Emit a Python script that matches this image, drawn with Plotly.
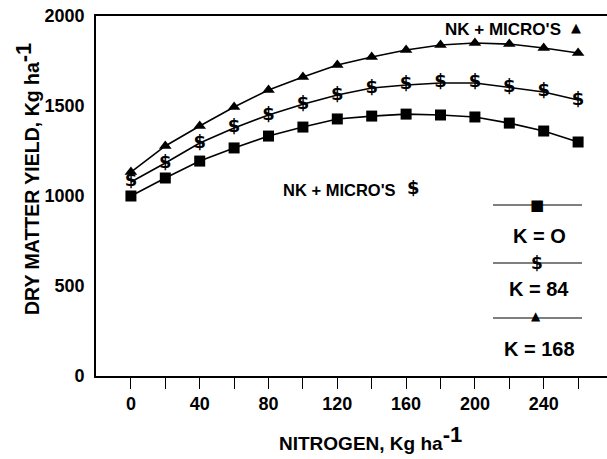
import plotly.graph_objects as go

nitrogen = [0, 20, 40, 60, 80, 100, 120, 140, 160, 180, 200, 220, 240, 260]
k0 = [1000, 1100, 1194, 1267, 1333, 1383, 1428, 1444, 1455, 1450, 1439, 1405, 1361, 1300]
k84 = [1078, 1183, 1294, 1378, 1450, 1510, 1561, 1600, 1617, 1628, 1628, 1605, 1578, 1533]
k168 = [1133, 1278, 1389, 1494, 1589, 1661, 1728, 1772, 1811, 1839, 1850, 1844, 1822, 1794]
x_major = [0, 40, 80, 120, 160, 200, 240]
y_ticks = [0, 500, 1000, 1500, 2000]

FONT = "Liberation Sans, Arial, sans-serif"
W, H = 607, 459
L, R, T, B = 96, 0, 16, 83
PW, PH = W - L - R, H - T - B

def px(x):
    return (x - L) / PW

def py(y):
    return 1 - (y - T) / PH

fig = go.Figure()
fig.add_trace(go.Scatter(x=nitrogen, y=k0, mode="lines+markers",
                         line=dict(color="black", width=1.6),
                         marker=dict(symbol="square", size=11, color="black"),
                         showlegend=False))
fig.add_trace(go.Scatter(x=nitrogen, y=k84, mode="lines+text",
                         line=dict(color="black", width=1.6),
                         text=["$"] * len(nitrogen), textposition="middle center",
                         textfont=dict(family="DejaVu Sans", size=18, color="black", weight="bold"),
                         showlegend=False))
fig.add_trace(go.Scatter(x=nitrogen, y=k168, mode="lines+markers",
                         line=dict(color="black", width=1.6),
                         marker=dict(symbol="triangle-up", size=11, color="black"),
                         showlegend=False))

SUP = "<sup><span style='font-size:22px'>-1</span></sup>"
annotations = [
    dict(x=px(370), y=py(438), text="<b>NITROGEN, Kg ha" + SUP + "</b>",
         font=dict(family=FONT, size=19, color="black")),
    dict(x=px(27), y=py(179), text="<b>DRY MATTER YIELD, Kg ha" + SUP + "</b>",
         textangle=-90, font=dict(family=FONT, size=19.5, color="black")),
    dict(x=px(503), y=py(30), text="<b>NK + MICRO'S</b>", font=dict(family=FONT, size=17, color="black")),
    dict(x=px(576), y=py(28), text="▲", font=dict(family="DejaVu Sans", size=13, color="black")),
    dict(x=px(339), y=py(190), text="<b>NK + MICRO'S</b>", font=dict(family=FONT, size=16.5, color="black")),
    dict(x=px(413), y=py(187), text="<b>$</b>", font=dict(family="DejaVu Sans", size=18, color="black")),
    dict(x=px(539), y=py(236), text="<b>K = O</b>", font=dict(family=FONT, size=20, color="black")),
    dict(x=px(539), y=py(289), text="<b>K = 84</b>", font=dict(family=FONT, size=20, color="black")),
    dict(x=px(539), y=py(349), text="<b>K = 168</b>", font=dict(family=FONT, size=20, color="black")),
    dict(x=px(537), y=py(205), text="■", font=dict(family="DejaVu Sans", size=15, color="black")),
    dict(x=px(537), y=py(263), text="<b>$</b>", font=dict(family="DejaVu Sans", size=17, color="black")),
    dict(x=px(536), y=py(316), text="▲", font=dict(family="DejaVu Sans", size=12, color="black")),
]
for a in annotations:
    a.update(xref="paper", yref="paper", showarrow=False, xanchor="center", yanchor="middle")

shapes = []
for yy in (205, 263, 318):
    shapes.append(dict(type="line", xref="paper", yref="paper", x0=px(493), x1=px(582),
                       y0=py(yy), y1=py(yy), line=dict(color="black", width=1.2)))

fig.update_layout(
    width=W, height=H,
    margin=dict(l=L, r=R, t=T, b=B),
    paper_bgcolor="white", plot_bgcolor="white",
    annotations=annotations, shapes=shapes,
    xaxis=dict(range=[-20.3, 276.8], tickvals=x_major,
               ticks="outside", ticklen=11, tickwidth=1.3, tickcolor="black",
               minor=dict(tickvals=nitrogen, ticks="outside", ticklen=11, tickwidth=1.3, tickcolor="black"),
               showline=True, linecolor="black", linewidth=1.6, mirror=True,
               showgrid=False, zeroline=False,
               tickfont=dict(family=FONT, size=18, color="black", weight="bold")),
    yaxis=dict(range=[0, 2000], tickvals=y_ticks, ticks="", ticklabelstandoff=6,
               showline=True, linecolor="black", linewidth=1.6,
               showgrid=False, zeroline=False,
               tickfont=dict(family=FONT, size=18, color="black", weight="bold")),
)

fig.write_html("out.html")
